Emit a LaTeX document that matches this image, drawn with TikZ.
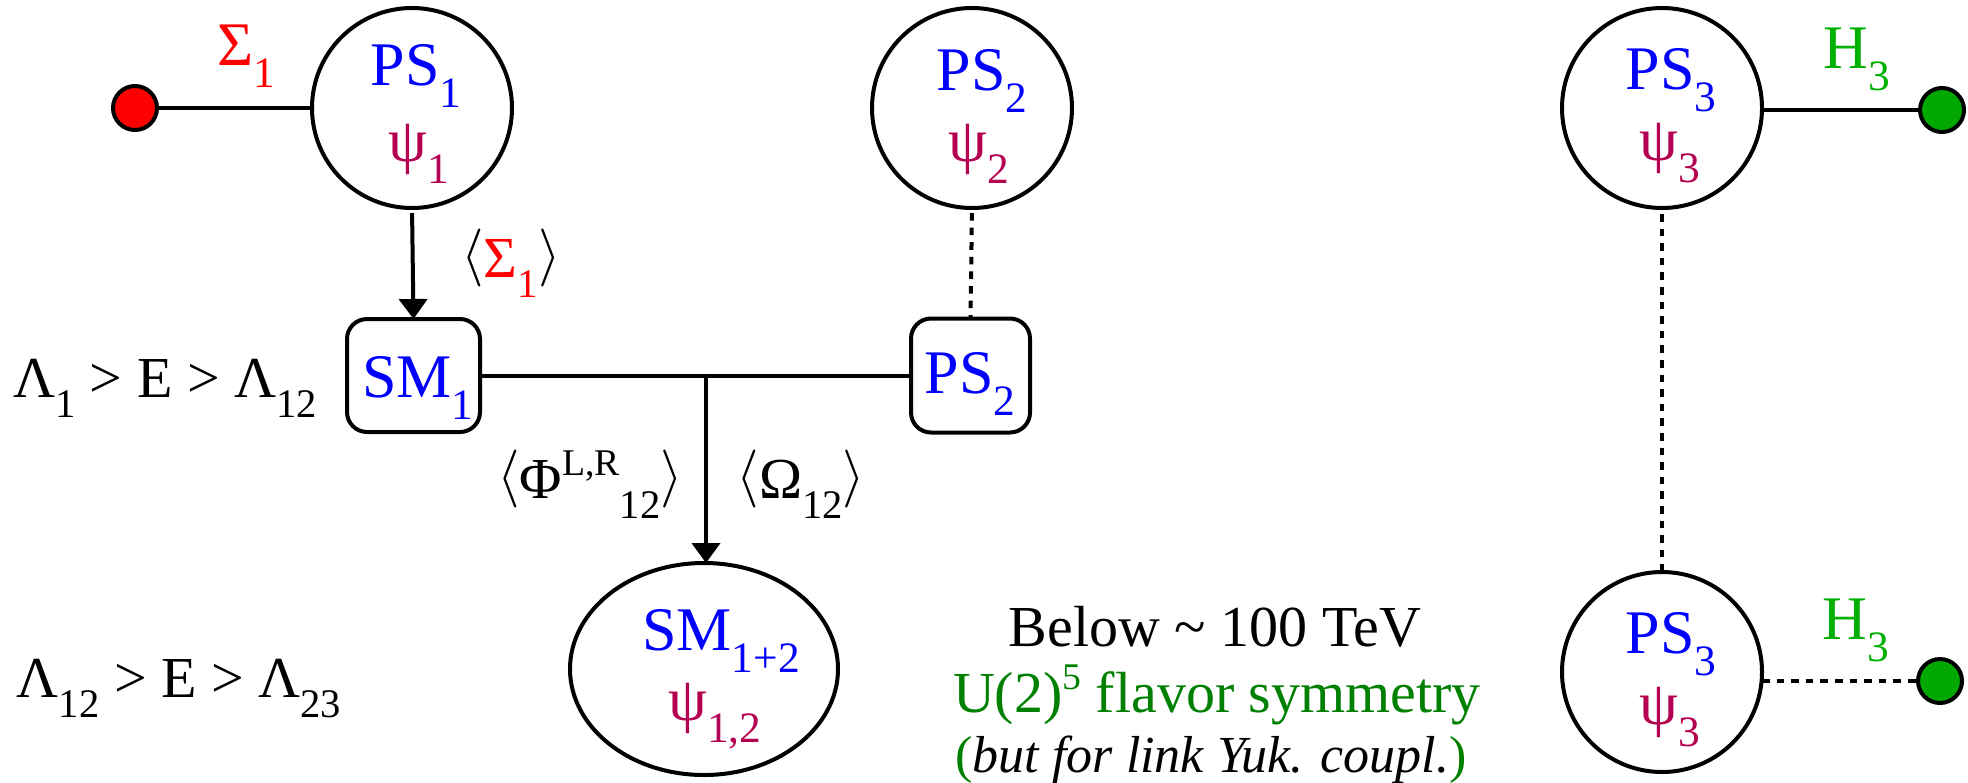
\documentclass[tikz,border=0pt]{standalone}
\usepackage{fontspec}
\setmainfont{Liberation Serif}
\usetikzlibrary{arrows.meta,shapes.geometric}
\definecolor{psblue}{RGB}{0,0,255}
\definecolor{psicol}{RGB}{180,0,80}
\definecolor{sigred}{RGB}{255,0,0}
\definecolor{hgreen}{RGB}{0,176,0}
\definecolor{ugreen}{RGB}{0,128,0}
\definecolor{dotgreen}{RGB}{0,168,0}
\newcommand{\dnx}[1]{\raisebox{-0.36em}{\scalebox{0.7}{#1}}}
\newcommand{\upx}[1]{\raisebox{0.38em}{\scalebox{0.65}{#1}}}
\newcommand{\lang}{\raisebox{0.08em}{\scalebox{2.9}{\normalsize$\langle$}}}
\newcommand{\rang}{\raisebox{0.08em}{\scalebox{2.9}{\normalsize$\rangle$}}}
\begin{document}
\begin{tikzpicture}[x=0.5pt,y=-0.5pt,
  lw/.style={line width=2pt},
  circ/.style={circle,draw,lw,minimum size=100pt,inner sep=0pt,outer sep=0pt},
  ell/.style={ellipse,draw,lw,minimum width=134pt,minimum height=106pt,inner sep=0pt,outer sep=0pt},
  rbox/.style={rectangle,rounded corners=10pt,draw,lw,inner sep=0pt,outer sep=0pt},
  dotn/.style={circle,draw,lw,minimum size=22pt,inner sep=0pt,outer sep=0pt},
  txt/.style={inner sep=0pt,anchor=base},
  big/.style={txt,font=\fontsize{31pt}{36pt}\selectfont},
  med/.style={txt,font=\fontsize{29pt}{34pt}\selectfont},
  sml/.style={txt,font=\fontsize{26pt}{31pt}\selectfont},
  arr/.style={lw,-{Triangle[length=10pt,width=14pt]}},
  dsh/.style={lw,dash pattern=on 3.8pt off 3.5pt}
]
\useasboundingbox (0,0) rectangle (1968,782);
% shapes
\node[circ] (ps1) at (412,108) {};
\node[dotn,fill=sigred] (rd) at (135,108) {};
\node[rbox,minimum width=66.5pt,minimum height=56.5pt] (sm1) at (413.5,375.5) {};
\node[circ] (ps2) at (972,108) {};
\node[rbox,minimum width=59.5pt,minimum height=57pt] (ps2b) at (970.5,375.5) {};
\node[ell] (sm12) at (704,669) {};
\node[circ] (ps3a) at (1662,108) {};
\node[circ] (ps3b) at (1662,672) {};
\node[dotn,fill=dotgreen] (g1) at (1942,110) {};
\node[dotn,fill=dotgreen] (g2) at (1940,681) {};
\coordinate (j) at (706,377);
% connectors
\draw[lw] (rd) -- (ps1);
\draw[arr,shorten <=2.5pt] (ps1.south) -- (sm1.north);
\draw[lw] (sm1.east) -- (ps2b.west);
\draw[arr] (j) -- (j |- sm12.north);
\draw[dsh,shorten <=2.5pt] (ps2.south) -- (ps2b.north);
\draw[dsh,shorten <=3pt] (ps3a.south) -- (ps3b.north);
\draw[lw] (g1 -| ps3a.east) -- (g1);
\draw[dsh] (g2 -| ps3b.east) -- (g2);
% texts
\node[big,text=psblue] (tps1) at (416,85) {PS\dnx{1}};
\node[big,text=psicol] (tpsi1) at (419,161) {ψ\dnx{1}};
\node[big,text=sigred] (tsig) at (246,65) {Σ\dnx{1}};
\node[med] (tvsig) at (511,277) {\lang\textcolor{sigred}{Σ\dnx{1}}\rang};
\node[big,text=psblue] (tsm1) at (418,397) {SM\dnx{1}};
\node[med] (tl1) at (165,397) {Λ\dnx{1} > E > Λ\dnx{12}};
\node[big,text=psblue] (tps2) at (982,90) {PS\dnx{2}};
\node[big,text=psicol] (tpsi2) at (979,161) {ψ\dnx{2}};
\node[big,text=psblue] (tps2b) at (970,393) {PS\dnx{2}};
\node[med] (tphi) at (590,498) {\lang Φ\upx{L,R}\dnx{12}\rang};
\node[med] (tom) at (801,498) {\lang Ω\dnx{12}\rang};
\node[big,text=psblue] (tsm12) at (721,650) {SM\dnx{1+2}};
\node[big,text=psicol] (tpsi12) at (715,720) {ψ\dnx{1,2}};
\node[med] (tl12) at (179,697) {Λ\dnx{12} > E > Λ\dnx{23}};
\node[med] (tbelow) at (1215,646) {Below \textasciitilde{} 100 TeV};
\node[med,text=ugreen] (tu2) at (1217,712) {U(2)\upx{5} flavor symmetry};
\node[sml] (tbut) at (1211,772) {\textcolor{ugreen}{(}\textit{but for link Yuk. coupl.}\textcolor{ugreen}{)}};
\node[big,text=psblue] (tps3a) at (1671,89) {PS\dnx{3}};
\node[big,text=psicol] (tpsi3a) at (1670,160) {ψ\dnx{3}};
\node[big,text=hgreen] (th3a) at (1857,68) {H\dnx{3}};
\node[big,text=psblue] (tps3b) at (1671,653) {PS\dnx{3}};
\node[big,text=psicol] (tpsi3b) at (1670,724) {ψ\dnx{3}};
\node[big,text=hgreen] (th3b) at (1856,639) {H\dnx{3}};
\end{tikzpicture}
\end{document}
